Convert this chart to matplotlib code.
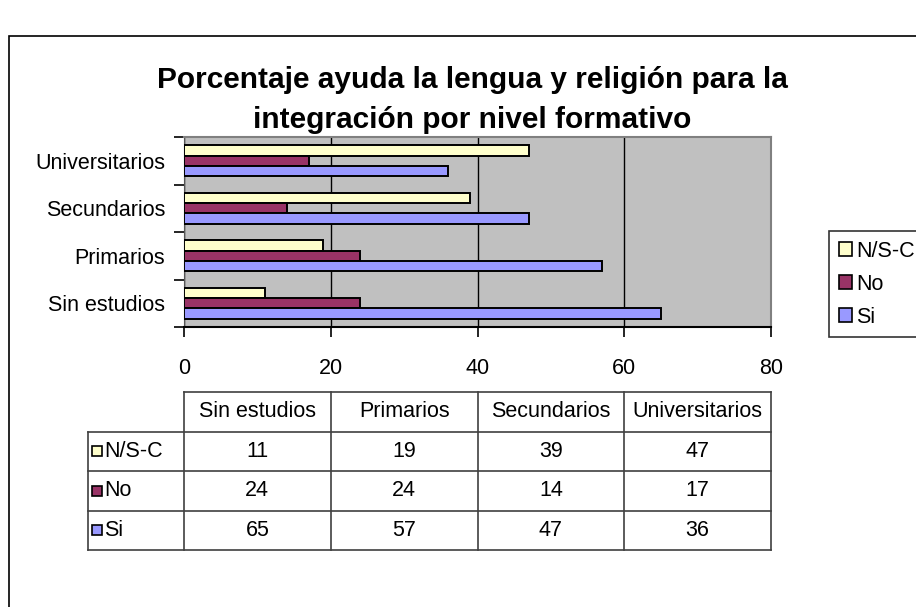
import numpy as np
import matplotlib.pyplot as plt
from matplotlib.patches import Rectangle

# data
niveles = ["Sin estudios", "Primarios", "Secundarios", "Universitarios"]
series = ["N/S-C", "No", "Si"]
nsc = [11, 19, 39, 47]
no = [24, 24, 14, 17]
si = [65, 57, 47, 36]
ticks_x = [0, 20, 40, 60, 80]
colors = ["#FFFFCC", "#993366", "#9999FF"]

plt.rcParams["font.family"] = ["Liberation Sans", "DejaVu Sans"]
fs = 15.5

W, H = 916, 607
fig = plt.figure(figsize=(W / 100, H / 100), dpi=100)


def fx(px):
    return px / W


def fy(py):
    return 1 - py / H


# outer chart border (runs off the right and bottom)
fig.patches.append(Rectangle((fx(9), fy(700)), fx(1000), fy(36) - fy(700),
                             transform=fig.transFigure, fill=False,
                             edgecolor="black", lw=1.2))

fig.text(fx(472), fy(100), "Porcentaje ayuda la lengua y religión para la\nintegración por nivel formativo",
         ha="center", va="center", fontsize=21.5, fontweight="bold", linespacing=1.5)

# bar chart
ax = fig.add_axes([fx(184), fy(327), fx(771) - fx(184), fy(137) - fy(327)])
ax.set_facecolor("#C0C0C0")
y = np.arange(len(niveles))
h = 0.22
for vals, off, c, lab in zip([nsc, no, si], [h, 0, -h], colors, series):
    ax.barh(y + off, vals, height=h, color=c, edgecolor="black", lw=1.4, label=lab, zorder=3)
ax.set_xlim(0, 80)
ax.set_ylim(-0.5, len(niveles) - 0.5)
ax.set_xticks(ticks_x)
ax.set_xticklabels([str(t) for t in ticks_x], fontsize=fs)
ax.set_yticks(y)
ax.set_yticklabels(niveles, fontsize=fs)
ax.set_yticks(np.arange(-0.5, len(niveles)), minor=True)
ax.tick_params(axis="y", which="major", length=0, pad=13.5)
ax.tick_params(axis="y", which="minor", length=7, width=1.2, direction="out")
ax.tick_params(axis="x", length=7, width=1.2, direction="out", pad=15)
ax.xaxis.grid(True, color="black", lw=1)
ax.set_axisbelow(True)
for s in ["top", "right"]:
    ax.spines[s].set_color("#808080")
    ax.spines[s].set_linewidth(1.5)
ax.spines["left"].set_color("#555555")
ax.spines["bottom"].set_color("black")
ax.spines["bottom"].set_linewidth(1.5)

# legend
handles = [Rectangle((0, 0), 1, 1, facecolor=c, edgecolor="black", lw=1.2) for c in colors]
leg = fig.legend(handles, series, loc="upper left", bbox_to_anchor=(fx(829), fy(231)),
                 fontsize=fs, frameon=True, fancybox=False, edgecolor="black",
                 handlelength=0.6, handleheight=0.6, handletextpad=0.2,
                 labelspacing=0.56, borderpad=0.45, borderaxespad=0)
leg.get_frame().set_linewidth(1.2)

# data table below the chart
tx = fig.add_axes([fx(88), fy(550), fx(771) - fx(88), fy(392) - fy(550)])
lw0 = (184 - 88) / ((771 - 184) / 4)
ncol = len(niveles)
nrow = len(series) + 1
tx.set_xlim(-lw0, ncol)
tx.set_ylim(nrow, 0)
tx.axis("off")
lc = "#404040"
for i in range(ncol + 1):
    tx.plot([i, i], [0, nrow], color=lc, lw=1.2, clip_on=False)
tx.plot([-lw0, -lw0], [1, nrow], color=lc, lw=1.2, clip_on=False)
tx.plot([0, ncol], [0, 0], color=lc, lw=1.2, clip_on=False)
for r in range(1, nrow + 1):
    tx.plot([-lw0, ncol], [r, r], color=lc, lw=1.2, clip_on=False)
for j, name in enumerate(niveles):
    tx.text(j + 0.5, 0.5, name, ha="center", va="center", fontsize=fs)
for r, (lab, vals, c) in enumerate(zip(series, [nsc, no, si], colors), start=1):
    tx.add_patch(Rectangle((-lw0 + 0.03, r + 0.5 - 0.13), 0.065, 0.26, facecolor=c,
                           edgecolor="black", lw=1.2, clip_on=False))
    tx.text(-lw0 + 0.11, r + 0.5, lab, ha="left", va="center", fontsize=fs)
    for j, v in enumerate(vals):
        tx.text(j + 0.5, r + 0.5, str(v), ha="center", va="center", fontsize=fs)

fig.savefig("out.png", dpi=100)
